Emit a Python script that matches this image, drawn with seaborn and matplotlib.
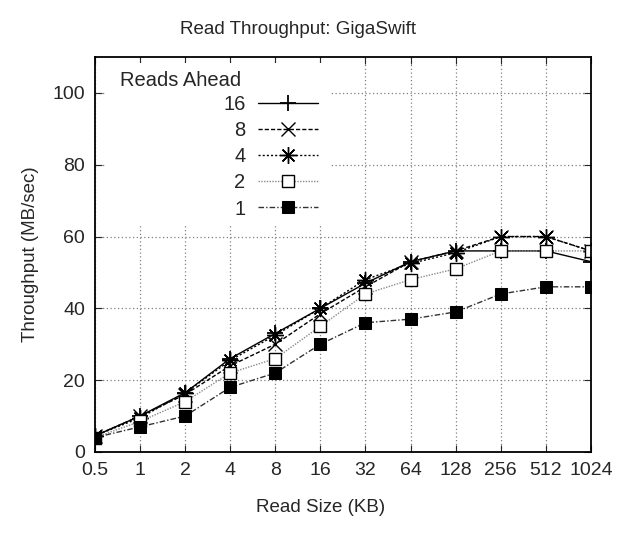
"""Read throughput chart for GigaSwift."""

import matplotlib
import matplotlib.pyplot as plt
import numpy as np
import seaborn as sns
from matplotlib.patches import Rectangle

matplotlib.use('Agg')

# Data
read_sizes = ['0.5', '1', '2', '4', '8', '16', '32', '64', '128', '256', '512', '1024']
ahead_16 = [4.5, 10, 16.5, 26, 33, 40, 47, 53, 56, 56, 56, 53]
ahead_8 = [4.5, 10, 16, 24, 30, 38.5, 46, 53, 56, 60, 60, 56]
ahead_4 = [4.5, 9.5, 16.4, 25.5, 32.5, 40, 48, 52.5, 55.5, 60, 60, 56]
ahead_2 = [4, 8.5, 14, 22, 26, 35, 44, 48, 51, 56, 56, 56]
ahead_1 = [4, 7, 10, 18, 22, 30, 36, 37, 39, 44, 46, 46]

sns.set_style('ticks')
plt.rcParams['font.family'] = ['Liberation Sans', 'DejaVu Sans']

fig = plt.figure(figsize=(6.24, 5.33), dpi=100)
ax = fig.add_axes([0.152, 0.152, 0.795, 0.741])

xpos = np.arange(len(read_sizes))

series = [
    ('16', ahead_16, dict(color='black', linestyle='-', marker='+',
                          markersize=12, markeredgewidth=1.3)),
    ('8', ahead_8, dict(color='black', linestyle=(0, (3, 1.5)), marker='x',
                        markersize=10, markeredgewidth=1.0)),
    ('4', ahead_4, dict(color='black', linestyle=(0, (1.5, 1.5)), marker=(8, 2, 0),
                        markersize=12, markeredgewidth=1.0)),
    ('2', ahead_2, dict(color='#8a8a8a', linestyle=(0, (1, 1)), marker='s',
                        markersize=8, markerfacecolor='white', markeredgewidth=1.0)),
    ('1', ahead_1, dict(color='#333333', linestyle=(0, (4, 1.5, 1, 1.5)), marker='s',
                        markersize=8, markerfacecolor='black')),
]

for label, values, style in series:
    sns.lineplot(x=xpos, y=values, ax=ax, label=label, linewidth=1.0,
                 markeredgecolor='black', **style)

ax.set_xlim(0, len(read_sizes) - 1)
ax.set_ylim(0, 110)
ax.set_xticks(xpos)
ax.set_xticklabels(read_sizes)
ax.set_yticks(np.arange(0, 101, 20))

ax.grid(True, color='#808080', linestyle=(0, (1, 2)), linewidth=0.9)
ax.tick_params(direction='in', top=True, right=True, labelsize=14,
               length=5, width=0.8, pad=7)
for spine in ax.spines.values():
    spine.set_linewidth(1.3)
    spine.set_color('black')

# white box behind the key, hides the grid like the original
ax.add_patch(Rectangle((0.02, 0.575), 0.455, 0.41, transform=ax.transAxes,
                       facecolor='white', edgecolor='none', zorder=1))

ax.set_xlabel('Read Size (KB)', fontsize=13.5)
ax.xaxis.set_label_coords(0.456, -0.118)
ax.set_ylabel('Throughput (MB/sec)', fontsize=13.5, labelpad=10)
fig.suptitle('Read Throughput: GigaSwift', fontsize=13.5, x=0.478, y=0.944, va='center')

leg = ax.legend(loc='upper right', bbox_to_anchor=(0.45, 0.903),
                markerfirst=False, frameon=False, borderpad=0, borderaxespad=0,
                prop={'size': 14.5}, handlelength=3.0, handletextpad=0.6,
                labelspacing=0.35)
ax.text(0.05, 0.927, 'Reads Ahead', transform=ax.transAxes, ha='left',
        va='baseline', fontsize=14.5)

fig.savefig('out.png', dpi=100)
